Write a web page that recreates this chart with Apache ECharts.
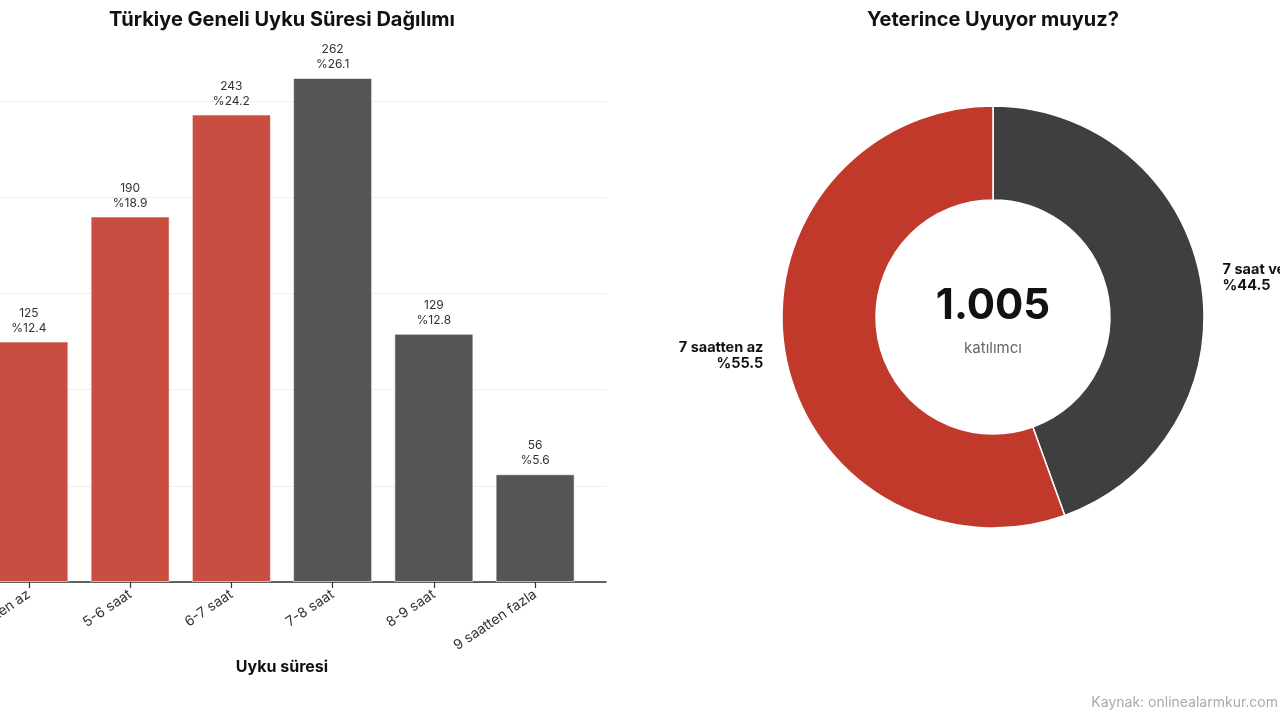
<!DOCTYPE html>
<html><head><meta charset="utf-8">
<script src="https://cdn.jsdelivr.net/npm/echarts@6/dist/echarts.min.js"></script>
<style>html,body{margin:0;padding:0;background:#fff}#c{width:1280px;height:720px}</style>
</head><body><div id="c"></div>
<script>
const categories = ['5 saatten az','5-6 saat','6-7 saat','7-8 saat','8-9 saat','9 saatten fazla'];
const counts = [125,190,243,262,129,56];
const percents = [12.4,18.9,24.2,26.1,12.8,5.6];
const barColors = ['#C84E42','#C84E42','#C84E42','#555555','#555555','#555555'];
const pieNames = ['7 saat ve üzeri','7 saatten az'];
const pieValues = [447,558];
const piePercents = [44.5,55.5];
const pieColors = ['#3F3F3F','#C0392B'];
const total = '1.005';

const FONT = 'Inter, "Noto Sans", sans-serif';
const chart = echarts.init(document.getElementById('c'));
chart.setOption({
  backgroundColor:'#fff',
  textStyle:{fontFamily:FONT},
  title:[
    {text:'Türkiye Geneli Uyku Süresi Dağılımı',left:277,top:5,textAlign:'center',
     textStyle:{fontSize:20,fontWeight:'bold',color:'#111',fontFamily:FONT}},
    {text:'Yeterince Uyuyor muyuz?',left:988,top:5,textAlign:'center',
     textStyle:{fontSize:20,fontWeight:'bold',color:'#111',fontFamily:FONT}},
    {text:total,left:988,top:280,textAlign:'center',
     textStyle:{fontSize:42,fontWeight:'bold',color:'#111',fontFamily:FONT}},
    {text:'katılımcı',left:988,top:336,textAlign:'center',
     textStyle:{fontSize:15,fontWeight:'normal',color:'#666',fontFamily:FONT}},
    {text:'Kaynak: onlinealarmkur.com',right:-3,top:691,
     textStyle:{fontSize:14,fontWeight:'normal',color:'#aaa',fontFamily:FONT}}
  ],
  grid:{left:-42,width:648,top:53,bottom:138,containLabel:false,outerBoundsMode:'none'},
  xAxis:{type:'value',min:-0.7,max:5.7,
    name:'Uyku süresi',nameLocation:'middle',nameGap:77,
    nameTextStyle:{fontSize:16,fontWeight:'bold',color:'#111',fontFamily:FONT},
    axisLine:{show:true,onZero:false,lineStyle:{color:'#333',width:1.5}},
    axisTick:{show:true,length:6,customValues:[0,1,2,3,4,5],lineStyle:{color:'#333',width:1.2}},
    axisLabel:{customValues:[0,1,2,3,4,5],rotate:34,fontSize:14,color:'#333',margin:11,
      formatter:(v)=>categories[Math.round(v)]},
    splitLine:{show:false}},
  yAxis:{type:'value',min:0,max:275,interval:50,
    axisLine:{show:false},axisTick:{show:false},axisLabel:{show:false},
    splitLine:{show:true,showMaxLine:false,lineStyle:{color:'#eeeeee',width:1}}},
  series:[
    {type:'bar',barWidth:79,
     data:counts.map((v,i)=>({value:[i,v],itemStyle:{color:barColors[i]}})),
     itemStyle:{borderColor:'rgba(255,255,255,0.55)',borderWidth:1},
     label:{show:true,position:'top',distance:6,fontSize:12,color:'#333',lineHeight:15,
       formatter:(p)=>counts[p.dataIndex]+'\n%'+percents[p.dataIndex]}},
    {type:'pie',center:[993,317],radius:[117,211],startAngle:90,clockwise:true,
     avoidLabelOverlap:false,
     data:pieValues.map((v,i)=>({name:pieNames[i],value:v,itemStyle:{color:pieColors[i]}})),
     itemStyle:{borderColor:'#fff',borderWidth:1.5},
     label:{show:true,position:'outside',fontSize:14.5,fontWeight:'bold',color:'#111',lineHeight:16,
       formatter:(p)=>p.name+'\n%'+piePercents[p.dataIndex]},
     labelLine:{show:false,length:15,length2:2},
     emphasis:{disabled:true}}
  ]
});
</script></body></html>
